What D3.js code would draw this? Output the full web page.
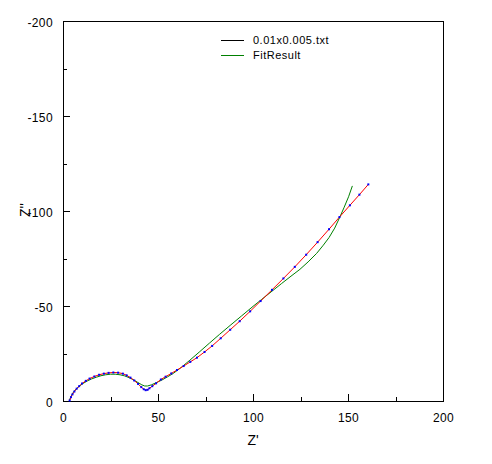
<!DOCTYPE html>
<html>
<head>
<meta charset="utf-8">
<script src="https://cdn.jsdelivr.net/npm/d3@7"></script>
<style>
  body { margin: 0; background: #fff; }
  svg text { font-family: "Liberation Sans", Arial, sans-serif; fill: #000; }
</style>
</head>
<body>
<div id="chart"></div>
<script>
// measured data: Z' (ohm) and Z'' (ohm, negative)
var dataZre = [3.5, 4.2, 5.0, 6.0, 7.2, 8.5, 10, 12, 14, 16.5, 19, 21.5, 24, 26.5, 29, 31.5, 33.5, 35.5,
    37.5, 39.5, 41.2, 42.5, 43.5, 44.5, 45.5, 47, 49, 51.5, 54, 57, 60, 63.5, 67, 70.5, 74.5, 78.5,
    83, 88, 93, 98.5, 104, 110, 116, 122, 128, 134, 140, 145.5, 151, 156, 160.7];
var dataZim = [-0.3, -2.0, -3.5, -5.0, -6.5, -7.8, -9.2, -10.6, -11.8, -12.9, -13.8, -14.4, -14.8, -15.0,
    -14.9, -14.4, -13.5, -12.3, -10.8, -9.0, -7.3, -6.2, -5.7, -5.9, -6.7, -7.8, -9.3, -11.3, -12.8,
    -14.5, -16.3, -18.4, -20.6, -22.8, -25.8, -29.0, -33.0, -37.5, -42.0, -47.2, -52.6, -58.5, -64.5,
    -70.6, -77.0, -83.6, -90.4, -96.8, -103.0, -108.6, -114.0];

// fit result
var fitZre = [3.3, 3.8, 4.6, 5.6, 7, 8.6, 10.5, 12.7, 15, 17.5, 20, 22.5, 25, 27.5, 30, 32.5, 35, 37.5,
    39.5, 41.5, 43, 44.5, 46.5, 49, 52, 55, 58, 62, 66.8, 72, 77, 82.3, 88, 94, 100, 104.6, 110, 115,
    120, 124.7, 129, 133.5, 137, 140, 143, 145.8, 148, 150.3, 152.3];
var fitZim = [0, -1.5, -3.2, -4.8, -6.4, -7.8, -9.2, -10.5, -11.6, -12.5, -13.3, -13.8, -14.1, -14.1,
    -13.8, -13.2, -12.2, -10.9, -9.7, -8.5, -7.9, -7.9, -8.5, -9.6, -11.0, -12.7, -14.5, -17.5, -21.5,
    -26.0, -30.4, -35.0, -39.8, -44.8, -49.8, -53.5, -57.8, -61.8, -65.7, -69.3, -73.2, -77.7, -82.0,
    -86.0, -91.0, -97.0, -102.0, -107.5, -113.2];

var xTicks = [0, 50, 100, 150, 200];
var yTicks = [0, -50, -100, -150, -200];
var xMinor = [25, 75, 125, 175];
var yMinor = [-25, -75, -125, -175];
var legendNames = ["0.01x0.005.txt", "FitResult"];
var legendColors = ["#000000", "#008000"];

var width = 492,
    height = 464,
    margin = {left: 63, top: 21, right: 49, bottom: 63};
var plotW = width - margin.left - margin.right,
    plotH = height - margin.top - margin.bottom;

var svg = d3.select("#chart").append("svg")
    .attr("width", width)
    .attr("height", height);

var g = svg.append("g")
    .attr("transform", "translate(" + margin.left + "," + margin.top + ")");

var x = d3.scaleLinear().domain([0, 200]).range([0, plotW]);
var y = d3.scaleLinear().domain([0, -200]).range([plotH, 0]);

// plain hyphen for negatives, like the original
var fmt = function (d) { return String(d); };

//axes, ticks point inward
var xAxis = g.append("g")
    .attr("transform", "translate(0," + plotH + ")")
    .call(d3.axisBottom(x).tickValues(xTicks).tickFormat(fmt).tickSize(-7).tickSizeOuter(0).tickPadding(12));
var xAxisMinor = g.append("g")
    .attr("transform", "translate(0," + plotH + ")")
    .call(d3.axisBottom(x).tickValues(xMinor).tickSize(-4).tickSizeOuter(0).tickFormat(""));
var yAxis = g.append("g")
    .call(d3.axisLeft(y).tickValues(yTicks).tickFormat(fmt).tickSize(-7).tickSizeOuter(0).tickPadding(10));
var yAxisMinor = g.append("g")
    .call(d3.axisLeft(y).tickValues(yMinor).tickSize(-4).tickSizeOuter(0).tickFormat(""));

[xAxis, xAxisMinor, yAxis, yAxisMinor].forEach(function (a) {
    a.select(".domain").remove();
    a.selectAll("line").attr("stroke", "#000").attr("shape-rendering", "crispEdges");
    a.selectAll("text").style("font-size", "12px").style("letter-spacing", "0.4px").attr("fill", "#000");
});
yAxis.selectAll("text").attr("dy", "0.45em");

// frame
g.append("rect")
    .attr("x", 0.5)
    .attr("y", 0.5)
    .attr("width", plotW)
    .attr("height", plotH)
    .attr("fill", "none")
    .attr("stroke", "#000")
    .attr("stroke-width", 1.2)
    .attr("shape-rendering", "crispEdges");

var dataPts = dataZre.map(function (d, i) { return {x: d, y: dataZim[i]}; });
var fitPts = fitZre.map(function (d, i) { return {x: d, y: fitZim[i]}; });

var line = d3.line()
    .x(function (d) { return x(d.x); })
    .y(function (d) { return y(d.y); });

g.append("path")
    .datum(fitPts)
    .attr("d", line)
    .attr("fill", "none")
    .attr("stroke", "#008000")
    .attr("stroke-width", 1);

g.append("path")
    .datum(dataPts)
    .attr("d", line)
    .attr("fill", "none")
    .attr("stroke", "#ff0000")
    .attr("stroke-width", 1);

g.selectAll(".dot")
    .data(dataPts)
    .enter()
    .append("rect")
    .attr("class", "dot")
    .attr("x", function (d) { return x(d.x) - 1; })
    .attr("y", function (d) { return y(d.y) - 1; })
    .attr("width", 2)
    .attr("height", 2)
    .attr("fill", "#0000ff");

// legend
var legend = svg.append("g");
legendNames.forEach(function (name, i) {
    var ly = 40 + i * 15;
    legend.append("line")
        .attr("x1", 221).attr("x2", 244)
        .attr("y1", ly + 0.5).attr("y2", ly + 0.5)
        .attr("stroke", legendColors[i])
        .attr("stroke-width", 1);
    legend.append("text")
        .attr("x", 253)
        .attr("y", ly)
        .attr("dy", "0.35em")
        .style("font-size", "11px")
        .style("letter-spacing", "0.5px")
        .text(name);
});

// axis titles
svg.append("text")
    .attr("x", margin.left + plotW / 2)
    .attr("y", 445)
    .attr("text-anchor", "middle")
    .style("font-size", "14px")
    .text("Z'");

svg.append("text")
    .attr("transform", "translate(30,210) rotate(-90)")
    .attr("text-anchor", "middle")
    .style("font-size", "14px")
    .text("Z''");
</script>
</body>
</html>
